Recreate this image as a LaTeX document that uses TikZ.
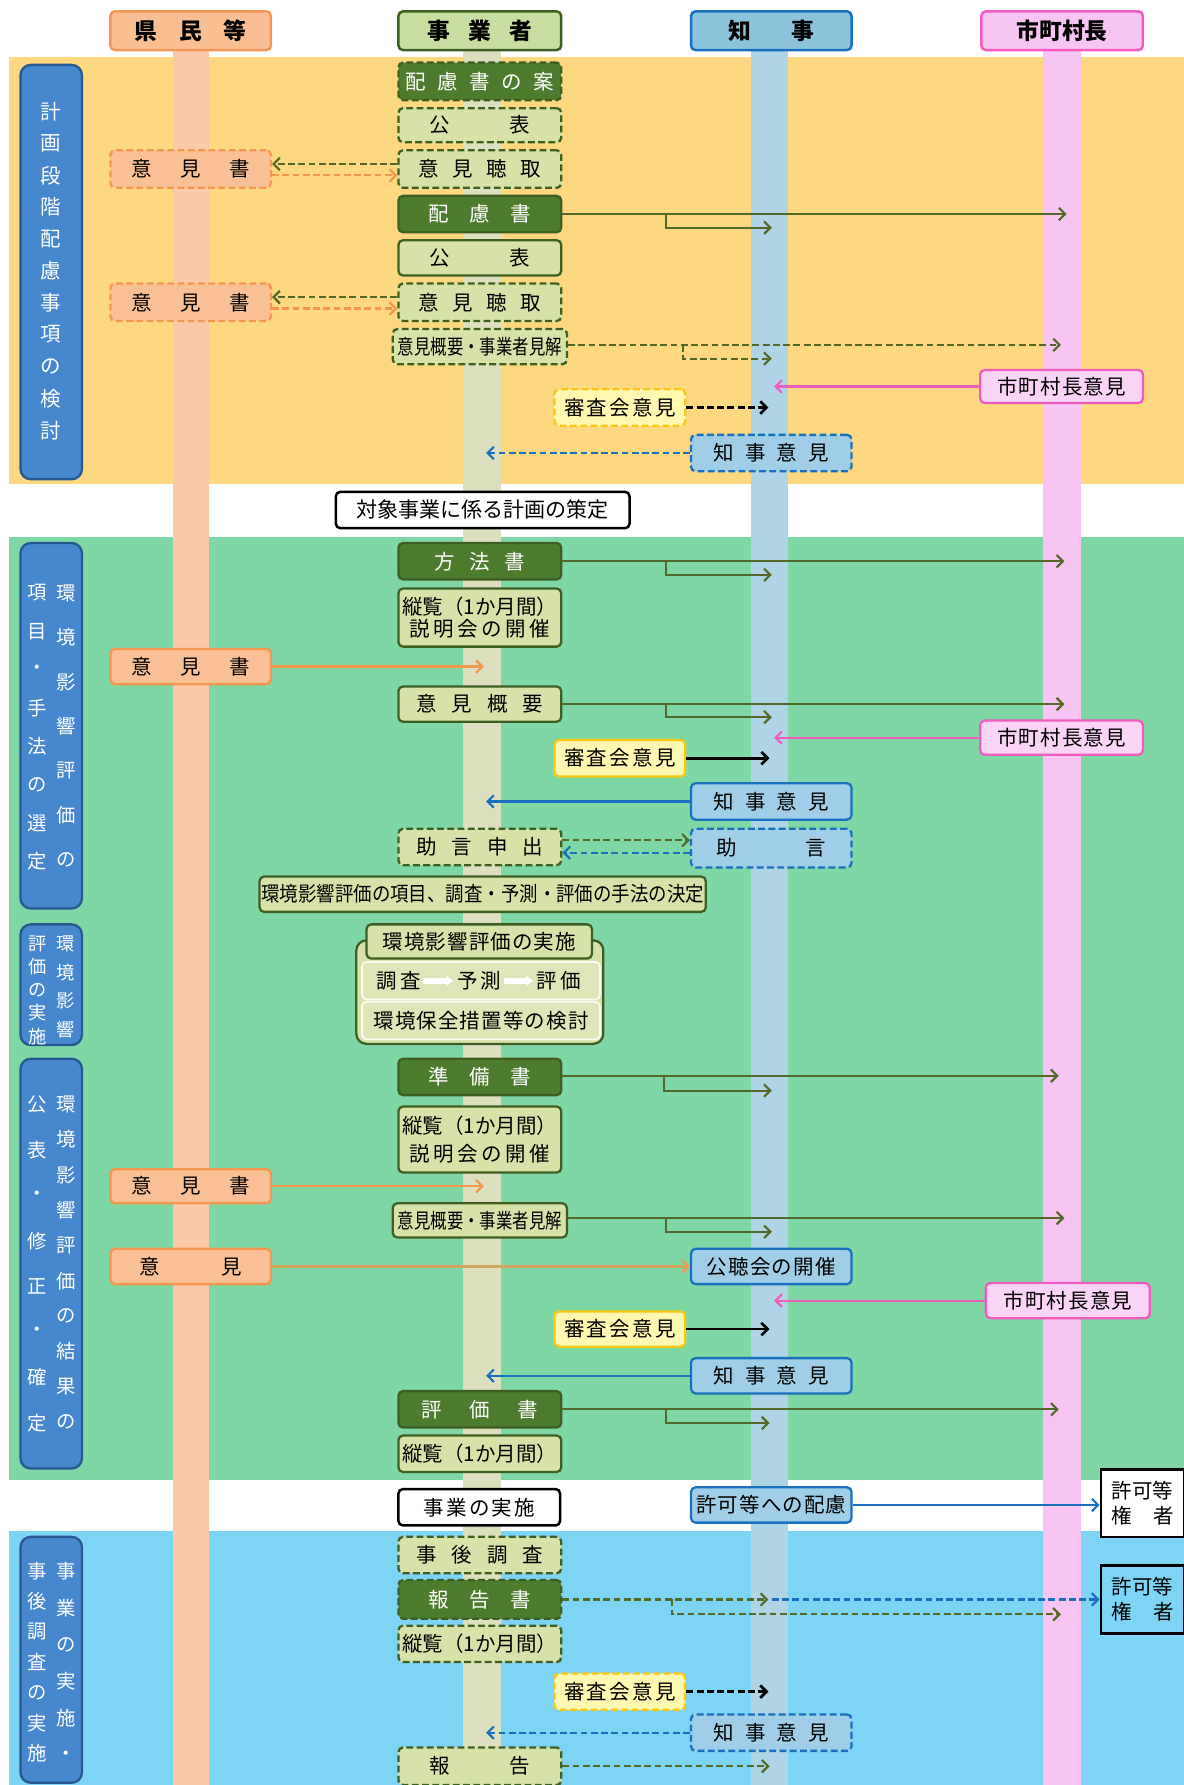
\documentclass[tikz,border=0pt]{standalone}
\usepackage{fontspec}
\setmainfont{Noto Sans CJK JP}
\usepackage{graphicx}
\usetikzlibrary{arrows.meta}
\newcommand\fs[2]{\fontsize{#1}{#2}\selectfont}
\newcommand\g[1]{\hspace{#1pt}}
\definecolor{bandA}{RGB}{253,216,128}
\definecolor{bandB}{RGB}{128,215,166}
\definecolor{bandC}{RGB}{126,212,244}
\definecolor{laneA}{RGB}{249,201,169}
\definecolor{laneB}{RGB}{220,224,190}
\definecolor{laneC}{RGB}{174,212,230}
\definecolor{laneD}{RGB}{247,196,243}
\definecolor{dkg}{RGB}{78,124,46}
\definecolor{dkgb}{RGB}{62,94,34}
\definecolor{ltg}{RGB}{214,226,168}
\definecolor{orf}{RGB}{249,192,150}
\definecolor{orb}{RGB}{245,150,80}
\definecolor{blf}{RGB}{160,206,232}
\definecolor{blb}{RGB}{24,112,190}
\definecolor{pkf}{RGB}{250,212,246}
\definecolor{pkb}{RGB}{240,92,190}
\definecolor{ylf}{RGB}{255,248,176}
\definecolor{ylb}{RGB}{250,200,20}
\definecolor{hAf}{RGB}{249,190,145}
\definecolor{hAb}{RGB}{243,150,90}
\definecolor{hBf}{RGB}{200,222,160}
\definecolor{hCf}{RGB}{140,196,222}
\definecolor{phf}{RGB}{70,135,205}
\definecolor{phb}{RGB}{40,88,145}
\definecolor{arrg}{RGB}{84,105,40}
\definecolor{tan}{RGB}{210,165,95}
\definecolor{inr}{RGB}{222,230,184}
\begin{document}
\begin{tikzpicture}[x=1pt,y=-1pt,
  base/.style={rounded corners=4pt, line width=2pt, inner sep=0pt, font=\fs{18}{21}, align=center},
  dkbox/.style={base, fill=dkg, draw=dkgb, text=white},
  ltbox/.style={base, fill=ltg, draw=dkgb},
  orbox/.style={base, fill=orf, draw=orb},
  blbox/.style={base, fill=blf, draw=blb},
  pkbox/.style={base, fill=pkf, draw=pkb},
  ylbox/.style={base, fill=ylf, draw=ylb},
  wtbox/.style={base, fill=white, draw=black, line width=2.2pt},
  hdr/.style={base, font=\fs{20}{22}\bfseries, line width=2.2pt},
  dsh/.style={dash pattern=on 6pt off 3pt},
  sz/.style 2 args={minimum width=#1pt, minimum height=#2pt},
  phase/.style={rounded corners=9pt, fill=phf, draw=phb, line width=2pt},
  vt/.style={text=white, inner sep=0pt},
  arr/.style={line width=1.9pt, -{Straight Barb[length=5.5pt,width=11pt]}},
  garr/.style={arr, draw=arrg},
  parr/.style={arr, draw=pkb},
  barr/.style={arr, draw=blb},
  oarr/.style={arr, draw=orb},
  karr/.style={arr, draw=black, line width=2.4pt},
  warr/.style={draw=white, line width=5pt, -{Triangle[length=6pt,width=9pt]}}
]
\useasboundingbox (0,0) rectangle (1040,1568);
% bands
\fill[bandA] (8,50) rectangle (1040,425);
\fill[bandB] (8,472) rectangle (1040,1300);
\fill[bandC] (8,1345) rectangle (1040,1568);
% lanes
\fill[laneA] (152,44) rectangle (184,1568);
\fill[laneB] (407,44) rectangle (440,1568);
\fill[laneC] (660,44) rectangle (692,1568);
\fill[laneD] (916,44) rectangle (950,1568);
% headers
\node[hdr, fill=hAf, draw=hAb, sz={141}{34}] (h1) at (167.5,27) {県\g{19}民\g{19}等};
\node[hdr, fill=hBf, draw=dkgb, sz={143}{34}] (h2) at (421.5,27) {事\g{16}業\g{16}者};
\node[hdr, fill=hCf, draw=blb, sz={141}{34}] (h3) at (677.5,27) {知\g{36}事};
\node[hdr, fill=laneD, draw=pkb, sz={142}{34}] (h4) at (933,27) {市町村長};
% phase boxes
\node[phase, sz={54}{364}] (P1) at (45,239) {};
\node[phase, sz={54}{321}] (P2) at (45,637.5) {};
\node[phase, sz={54}{106}] (P3) at (45,865) {};
\node[phase, sz={54}{360}] (P4) at (45,1110) {};
\node[phase, sz={54}{216}] (P5) at (45,1458) {};
\foreach \ch [count=\i from 0] in {計,画,段,階,配,慮,事,項,の,検,討}
  \node[vt, font=\fs{18}{18}] (pa\i) at (45,{98+28*\i}) {\ch};
\foreach \ch [count=\i from 0] in {環,境,影,響,評,価,の}
  \node[vt, font=\fs{17}{17}] (pbr\i) at (58,{521+39*\i}) {\ch};
\foreach \ch [count=\i from 0] in {項,目,・,手,法,の,選,定}
  \node[vt, font=\fs{17}{17}] (pbl\i) at (33,{521+33.7*\i}) {\ch};
\foreach \ch [count=\i from 0] in {環,境,影,響}
  \node[vt, font=\fs{16}{16}] (pcr\i) at (58,{829+25*\i}) {\ch};
\foreach \ch [count=\i from 0] in {評,価,の,実,施}
  \node[vt, font=\fs{16}{16}] (pcl\i) at (33,{829+20.3*\i}) {\ch};
\foreach \ch [count=\i from 0] in {環,境,影,響,評,価,の,結,果,の}
  \node[vt, font=\fs{17}{17}] (pdr\i) at (58,{970+31*\i}) {\ch};
\foreach \ch [count=\i from 0] in {公,表,・,修,正,・,確,定}
  \node[vt, font=\fs{17}{17}] (pdl\i) at (33,{970+40*\i}) {\ch};
\foreach \ch [count=\i from 0] in {事,業,の,実,施,・}
  \node[vt, font=\fs{17}{17}] (per\i) at (58,{1380+32.4*\i}) {\ch};
\foreach \ch [count=\i from 0] in {事,後,調,査,の,実,施}
  \node[vt, font=\fs{17}{17}] (pel\i) at (33,{1380+26.7*\i}) {\ch};

% ===== band 1 =====
\node[dkbox, dsh, sz={143}{33}] (a1) at (421.5,71.5) {配\g{10}慮\g{10}書\g{10}の\g{10}案};
\node[ltbox, dsh, sz={143}{30}] (a2) at (421.5,110) {公\g{52}表};
\node[ltbox, dsh, sz={143}{33}] (a3) at (421.5,148.5) {意\g{12}見\g{12}聴\g{12}取};
\node[dkbox, sz={143}{32}] (a4) at (421.5,188) {配\g{18}慮\g{18}書};
\node[ltbox, sz={143}{31}] (a5) at (421.5,226.5) {公\g{52}表};
\node[ltbox, dsh, sz={143}{33}] (a6) at (421.5,265.5) {意\g{12}見\g{12}聴\g{12}取};
\node[ltbox, dsh, sz={153}{31}] (a7) at (421.5,304.5) {\scalebox{0.8}[1]{意見概要・事業者見解}};
\node[orbox, dsh, sz={141}{33}] (o1) at (167.5,148.5) {意\g{25}見\g{25}書};
\node[orbox, dsh, sz={141}{33}] (o2) at (167.5,265.5) {意\g{25}見\g{25}書};
\node[ylbox, dsh, sz={115}{32}] (s1) at (544.5,358) {審\g{2}査\g{2}会\g{2}意\g{2}見};
\node[blbox, dsh, sz={141}{32}] (g1) at (677.5,398) {知\g{10}事\g{10}意\g{10}見};
\node[pkbox, sz={143}{29}] (m1) at (932.5,339.5) {市\g{1}町\g{1}村\g{1}長\g{1}意\g{1}見};

\draw[garr, dsh] ([yshift=4.5pt]a3.west) -- ([yshift=4.5pt]o1.east);
\draw[oarr, dsh] ([yshift=-5.5pt]o1.east) -- ([yshift=-5.5pt]a3.west);
\draw[garr, dsh] ([yshift=4.5pt]a6.west) -- ([yshift=4.5pt]o2.east);
\draw[oarr, dsh] ([yshift=-5.5pt]o2.east) -- ([yshift=-5.5pt]a6.west);
\coordinate (a4m) at (937,188);
\coordinate (a4b) at (585,188);
\coordinate (a4k) at (678,200);
\draw[garr] (a4.east) -- (a4m);
\draw[garr] (a4b) |- (a4k);
\coordinate (a7m) at (932,303);
\coordinate (a7b) at (600,303);
\coordinate (a7k) at (678,315);
\draw[garr, dsh] ([yshift=1.5pt]a7.east) -- (a7m);
\draw[garr, dsh] (a7b) |- (a7k);
\coordinate (m1k) at (680,339.5);
\draw[parr] (m1.west) -- (m1k);
\coordinate (s1k) at (675,358);
\draw[karr, dsh] (s1.east) -- (s1k);
\coordinate (g1k) at (427,398);
\draw[barr, dsh] (g1.west) -- (g1k);

% gap 1
\node[wtbox, sz={258}{32}, font=\fs{18.5}{21}] (t1) at (424,448) {対象事業に係る計画の策定};

% ===== band 2 =====
\node[dkbox, sz={143}{32}] (b1) at (421.5,493) {方\g{13}法\g{13}書};
\node[ltbox, sz={143}{51}, font=\fs{18}{19}] (b2) at (421.5,542.5) {縦覧（1か月間）\\説\g{3}明\g{3}会\g{3}の\g{3}開\g{3}催};
\node[orbox, sz={141}{31}] (o3) at (167.5,585.5) {意\g{25}見\g{25}書};
\node[ltbox, sz={143}{31}] (b3) at (421.5,618.5) {意\g{13}見\g{13}概\g{13}要};
\node[pkbox, sz={143}{30}] (m2) at (932.5,648) {市\g{1}町\g{1}村\g{1}長\g{1}意\g{1}見};
\node[ylbox, sz={115}{32}] (s2) at (544.5,666) {審\g{2}査\g{2}会\g{2}意\g{2}見};
\node[blbox, sz={141}{32}] (g2) at (677.5,704) {知\g{10}事\g{10}意\g{10}見};
\node[ltbox, dsh, sz={143}{32}] (b4) at (421.5,744) {助\g{13}言\g{13}申\g{13}出};
\node[blbox, dsh, sz={141}{34}] (g3) at (677.5,745) {助\g{60}言};
\node[ltbox, sz={392}{31}] (b5) at (424,785.5) {\scalebox{0.9}[1]{環境影響評価の項目、調査・予測・評価の手法の決定}};
\node[ltbox, rounded corners=9pt, sz={217}{91}] (grp) at (421.5,871.5) {};
\node[ltbox, sz={198}{30}] (b6) at (421,827) {環\g{1}境\g{1}影\g{1}響\g{1}評\g{1}価\g{1}の\g{1}実\g{1}施};
\node[base, fill=inr, draw=white!85!ltg, line width=1.5pt, sz={209}{33}] (b7) at (422.5,861.5) {};
\node[base, fill=inr, draw=white!85!ltg, line width=1.5pt, sz={209}{33}] (b8) at (422.5,896.5) {環\g{1}境\g{1}保\g{1}全\g{1}措\g{1}置\g{1}等\g{1}の\g{1}検\g{1}討};
\node[inner sep=0pt, font=\fs{18}{18}] (r1) at (350,861.5) {調\g{3}査};
\node[inner sep=0pt, font=\fs{18}{18}] (r2) at (421,861.5) {予\g{3}測};
\node[inner sep=0pt, font=\fs{18}{18}] (r3) at (491,861.5) {評\g{3}価};
\draw[warr] ([xshift=2pt]r1.east) -- ([xshift=-3pt]r2.west);
\draw[warr] ([xshift=2pt]r2.east) -- ([xshift=-3pt]r3.west);

\node[dkbox, sz={143}{32}] (b9) at (421.5,946) {準\g{18}備\g{18}書};
\node[ltbox, sz={143}{58}, font=\fs{18}{24}] (b10) at (421.5,1001) {縦覧（1か月間）\\説\g{3}明\g{3}会\g{3}の\g{3}開\g{3}催};
\node[orbox, sz={141}{30}] (o4) at (167.5,1042) {意\g{25}見\g{25}書};
\node[ltbox, sz={153}{30}] (b11) at (421.5,1072) {\scalebox{0.8}[1]{意見概要・事業者見解}};
\node[orbox, sz={141}{31}] (o5) at (167.5,1112.5) {意\g{54}見};
\node[blbox, sz={141}{31}] (g4) at (677.5,1112.5) {公\g{1}聴\g{1}会\g{1}の\g{1}開\g{1}催};
\node[pkbox, sz={144}{31}] (m3) at (938,1142.5) {市\g{1}町\g{1}村\g{1}長\g{1}意\g{1}見};
\node[ylbox, sz={115}{31}] (s3) at (544.5,1167.5) {審\g{2}査\g{2}会\g{2}意\g{2}見};
\node[blbox, sz={141}{31}] (g5) at (677.5,1208.5) {知\g{10}事\g{10}意\g{10}見};
\node[dkbox, sz={143}{32}] (b12) at (421.5,1238) {評\g{24}価\g{24}書};
\node[ltbox, sz={143}{32}] (b13) at (421.5,1277) {縦覧（1か月間）};

\coordinate (b1m) at (935,493);
\coordinate (b1b) at (585,493);
\coordinate (b1k) at (678,505);
\draw[garr] (b1.east) -- (b1m);
\draw[garr] (b1b) |- (b1k);
\coordinate (o3k) at (425,585.5);
\draw[oarr] (o3.east) -- (o3k);
\coordinate (b3m) at (935,618.5);
\coordinate (b3b) at (585,618.5);
\coordinate (b3k) at (678,630);
\draw[garr] (b3.east) -- (b3m);
\draw[garr] (b3b) |- (b3k);
\coordinate (m2k) at (680,648);
\draw[parr] (m2.west) -- (m2k);
\coordinate (s2k) at (676,666);
\draw[karr] (s2.east) -- (s2k);
\coordinate (g2k) at (427,704);
\draw[barr] (g2.west) -- (g2k);
\draw[garr, dsh] ([yshift=6pt]b4.east) -- ([yshift=7pt]g3.west);
\draw[barr, dsh] ([yshift=-4pt]g3.west) -- ([yshift=-5pt]b4.east);
\coordinate (b9m) at (930,945);
\coordinate (b9b) at (583,945);
\coordinate (b9k) at (678,958);
\draw[garr] ([yshift=1pt]b9.east) -- (b9m);
\draw[garr] (b9b) |- (b9k);
\coordinate (o4k) at (425,1042);
\draw[oarr] (o4.east) -- (o4k);
\coordinate (b11m) at (935,1070);
\coordinate (b11b) at (585,1070);
\coordinate (b11k) at (678,1082);
\draw[garr] ([yshift=2pt]b11.east) -- (b11m);
\draw[garr] (b11b) |- (b11k);
\draw[arr, draw=tan, -{Straight Barb[length=5.5pt,width=11pt,color=orb]}] (o5.east) -- (g4.west);
\coordinate (m3k) at (680,1142.5);
\draw[parr] (m3.west) -- (m3k);
\coordinate (s3k) at (676,1167.5);
\draw[karr] (s3.east) -- (s3k);
\coordinate (g5k) at (427,1208.5);
\draw[barr] (g5.west) -- (g5k);
\coordinate (b12m) at (930,1238);
\coordinate (b12b) at (585,1238);
\coordinate (b12k) at (676,1250);
\draw[garr] (b12.east) -- (b12m);
\draw[garr] (b12b) |- (b12k);

% gap 2
\node[wtbox, sz={142}{32}] (t2) at (421,1324) {事\g{2}業\g{2}の\g{2}実\g{2}施};
\node[blbox, sz={141}{31}] (g6) at (677.5,1322) {許\g{1}可\g{1}等\g{1}へ\g{1}の\g{1}配\g{1}慮};
\node[base, rounded corners=0pt, fill=white, draw=black, line width=2.2pt, sz={73}{59}, font=\fs{18}{22}] (k1) at (1003.5,1320.5) {許可等\\権\g{19}者};
\draw[barr] (g6.east) -- (g6.east -| k1.west);

% ===== band 3 =====
\node[ltbox, dsh, sz={143}{32}] (c1) at (421.5,1366) {事\g{13}後\g{13}調\g{13}査};
\node[dkbox, dsh, sz={143}{34}] (c2) at (421.5,1405) {報\g{18}告\g{18}書};
\node[base, rounded corners=0pt, fill=bandC, draw=black, line width=2.2pt, sz={73}{60}, font=\fs{18}{22}] (k2) at (1003.5,1405) {許可等\\権\g{19}者};
\node[ltbox, dsh, sz={143}{32}] (c3) at (421.5,1444) {縦覧（1か月間）};
\node[ylbox, dsh, sz={115}{32}] (s4) at (544.5,1486) {審\g{2}査\g{2}会\g{2}意\g{2}見};
\node[blbox, dsh, sz={141}{32}] (g7) at (677.5,1522) {知\g{10}事\g{10}意\g{10}見};
\node[ltbox, dsh, sz={143}{33}] (c4) at (421.5,1551.5) {報\g{53}告};

\coordinate (c2k) at (675,1405);
\coordinate (c2j) at (678,1405);
\coordinate (c2b) at (590,1405);
\coordinate (c2m) at (932,1418);
\draw[garr, dsh] (c2.east) -- (c2k);
\draw[barr, dsh] (c2j) -- (k2.west);
\draw[garr, dsh] (c2b) |- (c2m);
\coordinate (s4k) at (675,1486);
\draw[karr, dsh] (s4.east) -- (s4k);
\coordinate (g7k) at (427,1522);
\draw[barr, dsh] (g7.west) -- (g7k);
\coordinate (c4k) at (676,1551.5);
\draw[garr, dsh] (c4.east) -- (c4k);
\end{tikzpicture}
\end{document}
